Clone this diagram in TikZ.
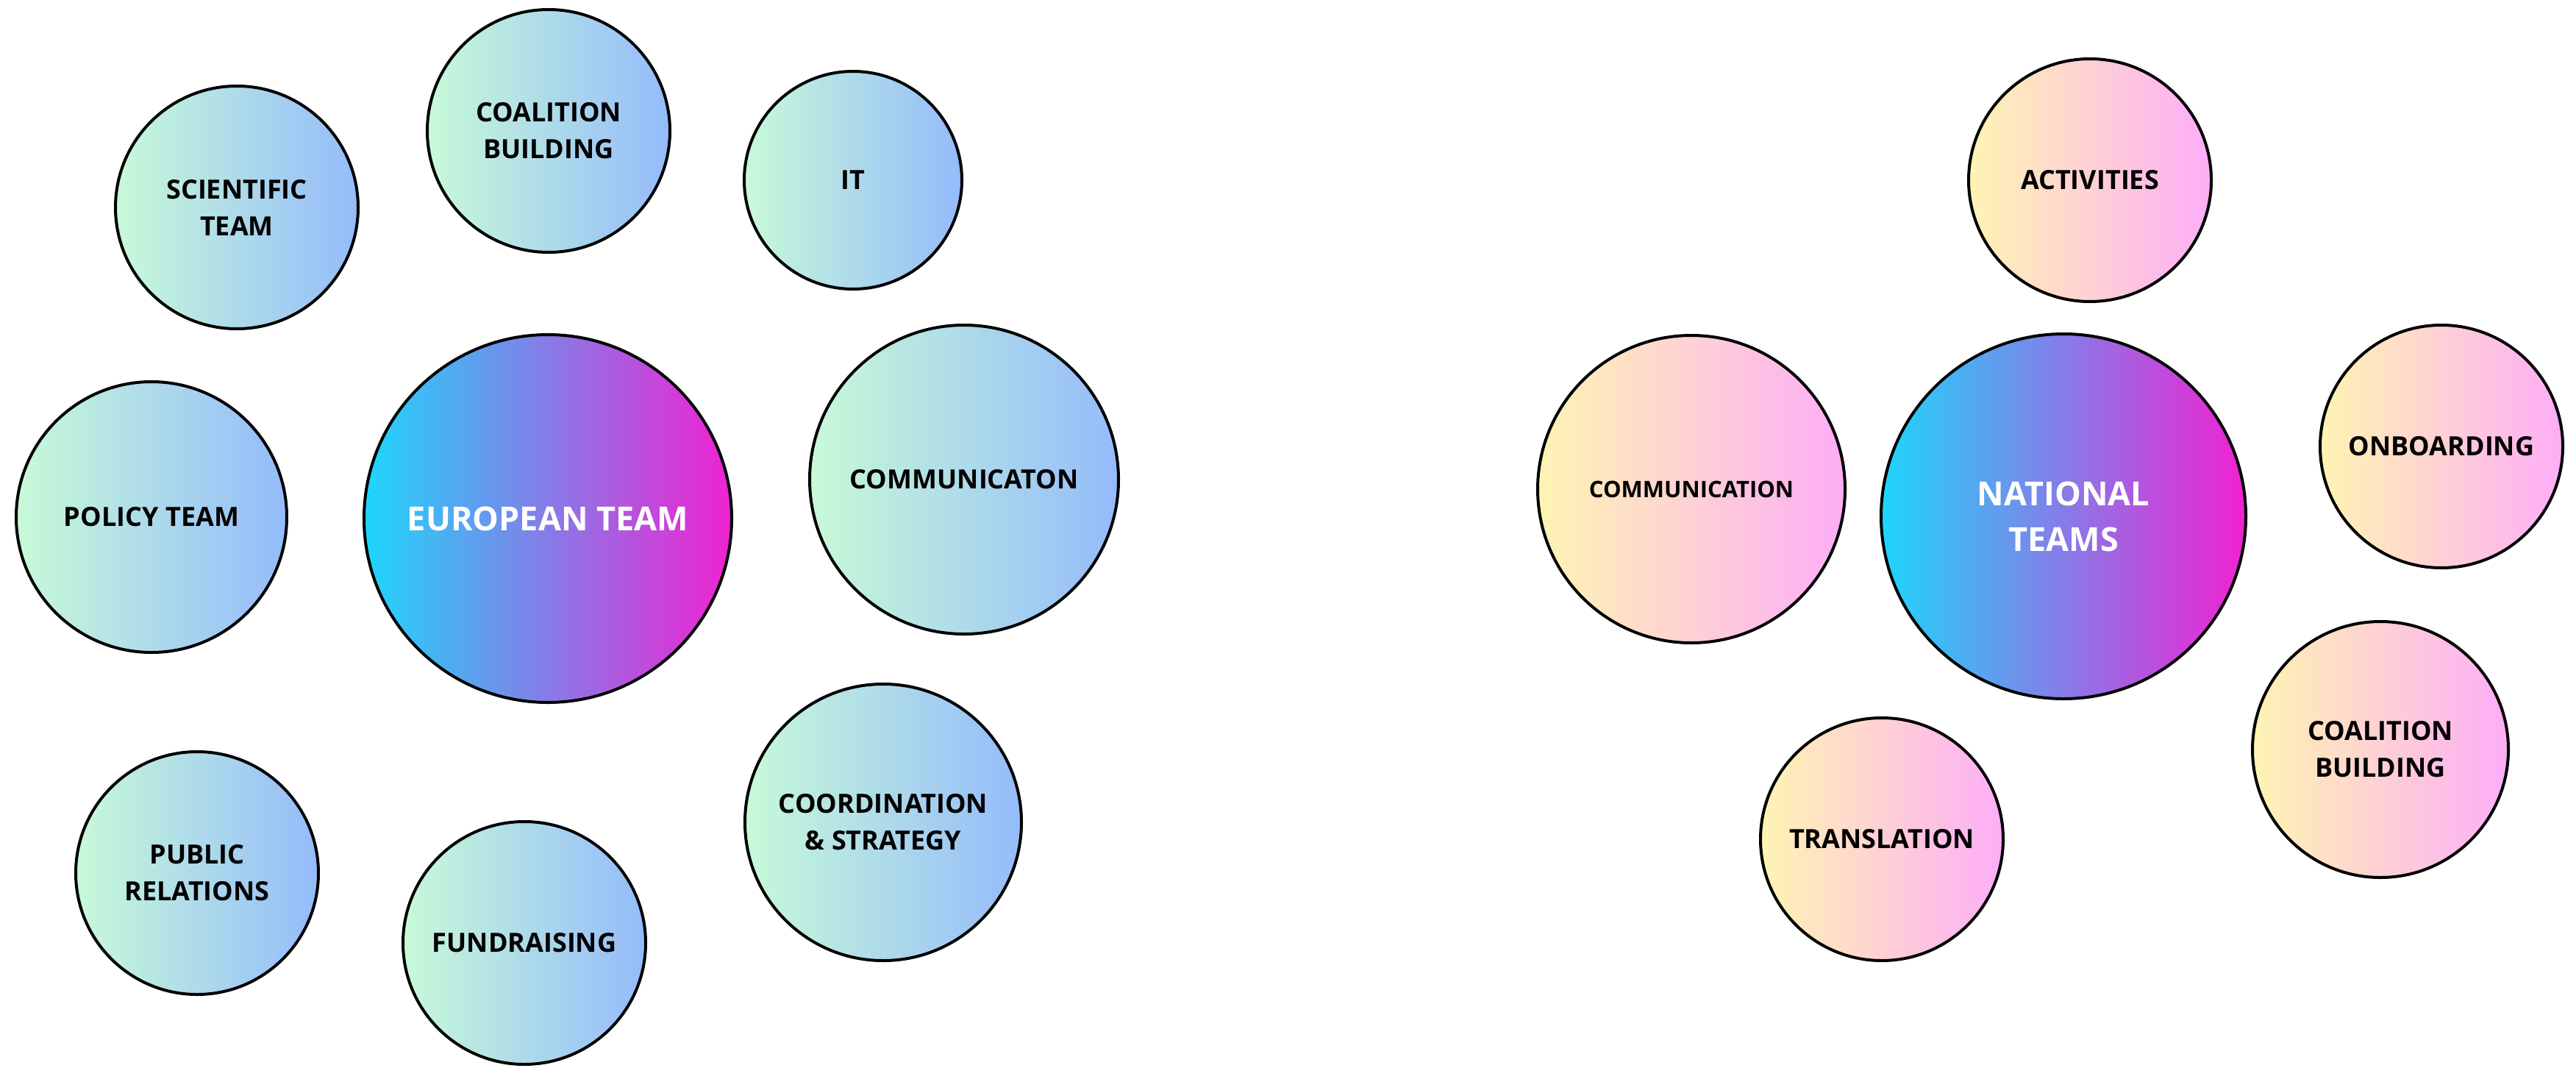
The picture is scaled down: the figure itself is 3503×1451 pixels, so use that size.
\documentclass[tikz,border=0pt]{standalone}
\usepackage{fontspec}
\setmainfont{Open Sans}
\begin{document}
\begin{tikzpicture}[x=1pt,y=-1pt,
  bubble/.style={circle,draw=black,line width=4pt,inner sep=0pt,align=center,
    font=\bfseries\fontsize{36}{50}\selectfont,text=black},
  cool/.style={bubble,left color=coolL,right color=coolR},
  warm/.style={bubble,left color=warmL,right color=warmR},
  hub/.style={bubble,left color=hubL,right color=hubR,text=white,
    font=\bfseries\fontsize{45}{62}\selectfont},
]
\definecolor{coolL}{HTML}{C8FAD8}
\definecolor{coolR}{HTML}{94BBFB}
\definecolor{warmL}{HTML}{FEF4B2}
\definecolor{warmR}{HTML}{FDADF7}
\definecolor{hubL}{HTML}{1ED6FB}
\definecolor{hubR}{HTML}{F021D2}
\useasboundingbox (0,0) rectangle (3503,1451);

% European side
\node[cool,minimum size=330pt] (sci) at (322,282) {SCIENTIFIC\\TEAM};
\node[cool,minimum size=330pt] (coal) at (746,178) {COALITION\\BUILDING};
\node[cool,minimum size=296pt] (it) at (1160,245) {IT};
\node[cool,minimum size=368pt] (policy) at (206,703) {POLICY TEAM};
\node[hub,minimum size=500pt] (euro) at (745,705) {EUROPEAN TEAM};
\node[cool,minimum size=420pt] (comm) at (1311,652) {COMMUNICATON};
\node[cool,minimum size=330pt] (pr) at (268,1187) {PUBLIC\\RELATIONS};
\node[cool,minimum size=330pt] (fund) at (713,1282) {FUNDRAISING};
\node[cool,minimum size=376pt] (coord) at (1201,1118) {COORDINATION\\\&~STRATEGY};

% National side
\node[warm,minimum size=330pt] (act) at (2842,245) {ACTIVITIES};
\node[warm,minimum size=418pt,font=\bfseries\fontsize{31}{44}\selectfont] (comm2) at (2300,665) {COMMUNICATION};
\node[hub,minimum size=496pt] (nat) at (2806,702) {NATIONAL\\TEAMS};
\node[warm,minimum size=330pt] (onb) at (3320,607) {ONBOARDING};
\node[warm,minimum size=348pt] (coal2) at (3237,1019) {COALITION\\BUILDING};
\node[warm,minimum size=330pt] (trans) at (2559,1141) {TRANSLATION};
\end{tikzpicture}
\end{document}
